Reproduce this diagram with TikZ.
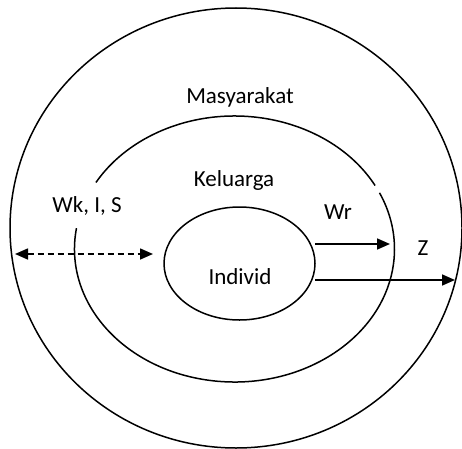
\documentclass[tikz,border=0pt]{standalone}
\usepackage{fontspec}
\setmainfont{Carlito}
\usetikzlibrary{arrows.meta,shapes.geometric}
\begin{document}
\begin{tikzpicture}[x=1pt,y=1pt,
  ring/.style={line width=1.5pt},
  lbl/.style={font=\fontsize{23}{27}\selectfont, inner sep=0pt},
  arr/.style={line width=1.6pt, -{Triangle[length=13pt,width=11pt]}},
  darr/.style={line width=1.6pt, dash pattern=on 6pt off 4pt, {Triangle[length=13pt,width=11pt]}-{Triangle[length=13pt,width=11pt]}}]
\clip (0,0) rectangle (462,448);
\fill[white] (0,0) rectangle (462,448);
% outer ring
\draw[ring] (236,220) ellipse[x radius=226, y radius=220];
% middle ring with two gaps
\draw[ring] (234.5,199) ++(28.5:160 and 133) arc[start angle=28.5, end angle=150, x radius=160, y radius=133];
\draw[ring] (234.5,199) ++(171:160 and 133) arc[start angle=171, end angle=385, x radius=160, y radius=133];
% inner ring
\node[ring, draw, ellipse, minimum width=151pt, minimum height=113pt, inner sep=0pt] (ind) at (239.5,184.5) {};
% labels
\node[lbl] (mas) at (240,351) {Masyarakat};
\node[lbl] (kel) at (234,268) {Keluarga};
\node[lbl] (wk) at (87,242) {Wk, I, S};
\node[lbl] (wr) at (338,236) {Wr};
\node[lbl] (z) at (423,200) {Z};
\node[lbl] (indl) at (240,171) {Individ};
% arrow ends
\coordinate (dL) at (15,194);
\coordinate (dR) at (153,194);
\coordinate (wrS) at (315,204);
\coordinate (wrE) at (390,204);
\coordinate (zS) at (315,168);
\coordinate (zE) at (455,168);
\draw[darr] (dL) -- (dR);
\draw[arr] (wrS) -- (wrE);
\draw[arr] (zS) -- (zE);
\end{tikzpicture}
\end{document}
